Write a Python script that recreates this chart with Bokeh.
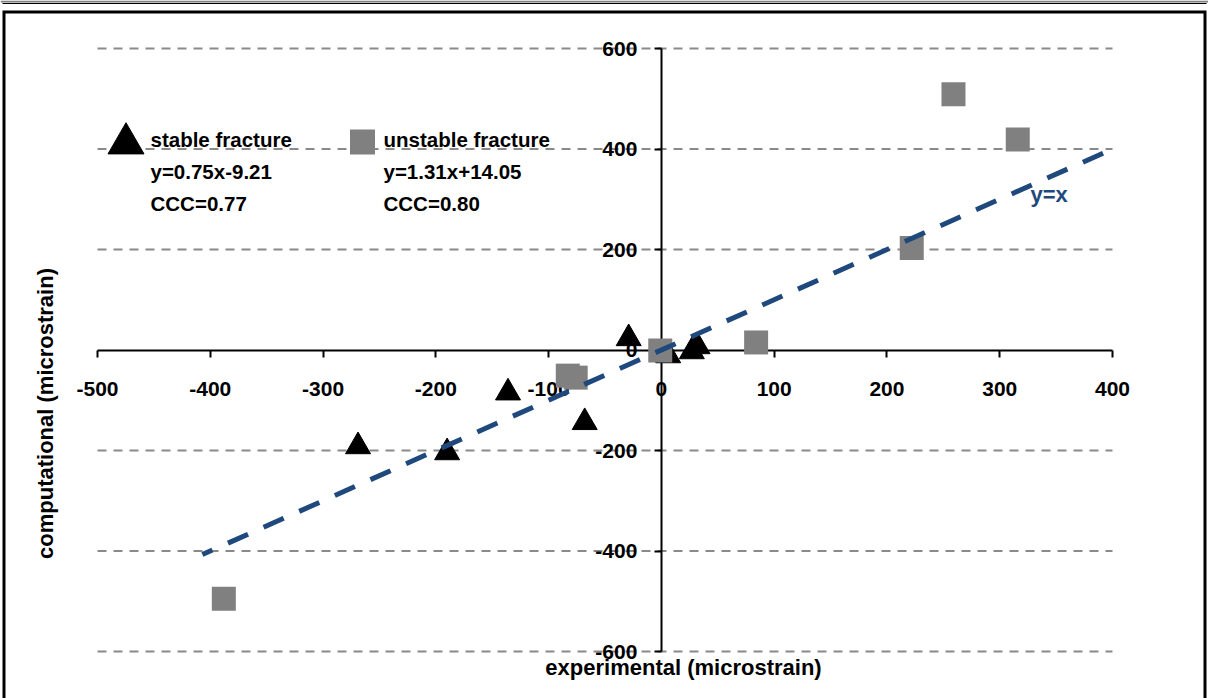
import math
from bokeh.plotting import figure
from bokeh.models import Range1d, FixedTicker, Label, LinearAxis
from bokeh.embed import file_html
from bokeh.resources import INLINE

# ---------------- data ----------------
stable_x = [-269, -190, -136, -68, -29, 6, 27, 32]
stable_y = [-192, -204, -85, -144, 23, -11, -3, 7]
unstable_x = [-388, -83, -76, -1, 84, 222, 259, 316]
unstable_y = [-495, -51, -55, -1, 15, 203, 509, 419]
ref_line_x = [-407, 400]
ref_line_y = [-407, 400]
x_ticks = [-500, -400, -300, -200, -100, 0, 100, 200, 300, 400]
x_tick_labels = ["-500", "-400", "-300", "-200", "-100", "0", "100", "200", "300", "400"]
y_ticks = [-600, -400, -200, 0, 200, 400, 600]
y_tick_labels = ["-600", "-400", "-200", "0", "200", "400", "600"]
grid_y = [-600, -400, -200, 200, 400, 600]
stable_label = ["stable fracture", "y=0.75x-9.21", "CCC=0.77"]
unstable_label = ["unstable fracture", "y=1.31x+14.05", "CCC=0.80"]
x_title = "experimental (microstrain)"
y_title = "computational (microstrain)"
ref_label = "y=x"

# ---------------- layout ----------------
W, H = 1208, 698
SX = 1015 / 900.0
SY = 603 / 1200.0
X0 = -500 - 97 / SX
X1 = 400 + (W - 1112) / SX
Y1 = 600 + 48 / SY
Y0 = -600 - (H - 651) / SY


def dx(px):
    return X0 + px / SX


def dy(py):
    return Y1 - py / SY


FONT = "Liberation Sans"
BLUE = "#1F497D"

p = figure(width=W, height=H, x_range=Range1d(X0, X1), y_range=Range1d(Y0, Y1),
           output_backend="svg", toolbar_location=None,
           x_axis_location=None, y_axis_location=None,
           min_border=0, outline_line_color=None,
           background_fill_color="white", border_fill_color="white")
p.xgrid.grid_line_color = None
p.ygrid.grid_line_color = None


def style_axis(ax):
    ax.axis_line_width = 2
    ax.axis_line_color = "black"
    ax.major_tick_line_width = 2
    ax.major_tick_line_color = "black"
    ax.major_tick_out = 7
    ax.major_tick_in = 0
    ax.minor_tick_out = 0
    ax.minor_tick_in = 0
    ax.major_label_text_font = FONT
    ax.major_label_text_font_size = "21px"
    ax.major_label_text_font_style = "bold"
    ax.major_label_text_color = "black"
    ax.level = "underlay"


xaxis = LinearAxis(fixed_location=0, bounds=(x_ticks[0], x_ticks[-1]),
                   ticker=FixedTicker(ticks=x_ticks),
                   major_label_overrides=dict(zip(x_ticks, x_tick_labels)))
style_axis(xaxis)
xaxis.major_label_standoff = 25
p.add_layout(xaxis, "below")

yaxis = LinearAxis(fixed_location=0, bounds=(y_ticks[0], y_ticks[-1]),
                   ticker=FixedTicker(ticks=y_ticks),
                   major_label_overrides=dict(zip(y_ticks, y_tick_labels)))
style_axis(yaxis)
yaxis.major_label_standoff = 17
p.add_layout(yaxis, "left")

# dashed horizontal gridlines
p.segment(x0=[x_ticks[0]] * len(grid_y), y0=grid_y,
          x1=[x_ticks[-1]] * len(grid_y), y1=grid_y,
          line_color="#8a8a8a", line_width=2, line_dash="9 7", level="underlay")

# frame decoration (top strip + left/top/right border)
p.line([dx(0), dx(W)], [dy(1), dy(1)], line_color="#7f7f7f", line_width=2)
p.line([dx(2), dx(1206)], [dy(3), dy(3)], line_color="black", line_width=1)
xl, xr, yt = dx(3.5), dx(1204.5), dy(11.5)
p.line([xl, xl, xr, xr], [Y0, yt, yt, Y0], line_color="black", line_width=3,
       line_join="miter")

# data
p.scatter(stable_x, stable_y, marker="triangle", size=25,
          fill_color="black", line_color="black")
p.scatter(unstable_x, unstable_y, marker="square", size=24,
          fill_color="#808080", line_color=None)
p.line(ref_line_x, ref_line_y, line_color=BLUE, line_width=5,
       line_dash="22 17", line_dash_offset=11)

# legend
p.scatter([dx(125.5)], [dy(143)], marker="triangle", size=36,
          fill_color="black", line_color="black")
p.scatter([dx(362)], [dy(141.5)], marker="square", size=25,
          fill_color="#808080", line_color=None)

for i, (a, b) in enumerate(zip(stable_label, unstable_label)):
    yy = dy(139 + 32 * i)
    for xx, t in ((dx(150), a), (dx(383), b)):
        p.add_layout(Label(x=xx, y=yy, text=t, text_font=FONT,
                           text_font_size="20.5px", text_font_style="bold",
                           text_color="black", text_align="left",
                           text_baseline="alphabetic"))

p.add_layout(Label(x=dx(1030), y=dy(194), text=ref_label, text_font=FONT,
                   text_font_size="22px", text_font_style="bold",
                   text_color=BLUE, text_align="left", text_baseline="alphabetic"))

p.add_layout(Label(x=dx(683), y=dy(667), text=x_title, text_font=FONT,
                   text_font_size="22px", text_font_style="bold",
                   text_color="black", text_align="center",
                   text_baseline="alphabetic"))
p.add_layout(Label(x=dx(45), y=dy(413), text=y_title, text_font=FONT,
                   text_font_size="22px", text_font_style="bold",
                   text_color="black", text_align="center",
                   text_baseline="middle", angle=math.pi / 2))

open("out.html", "w").write(file_html(p, INLINE))
